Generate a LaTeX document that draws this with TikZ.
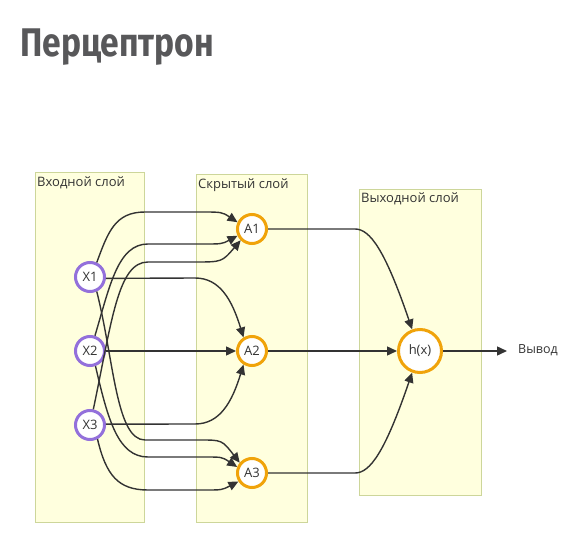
\documentclass[tikz,border=0pt]{standalone}
\usepackage{fontspec}
\setmainfont{Open Sans}
\newfontfamily\titlefont[FakeStretch=0.84]{Fira Sans}
\usetikzlibrary{arrows.meta}

\definecolor{cLayerF}{HTML}{FFFFDE}
\definecolor{cLayerD}{HTML}{CDD69A}
\definecolor{cIn}{HTML}{9370DB}
\definecolor{cHid}{HTML}{F0A30A}
\definecolor{cLine}{HTML}{333333}
\definecolor{cTitle}{HTML}{58585A}

\tikzstyle{layer} = [draw=cLayerD, fill=cLayerF, line width=1.2pt,
                     rectangle, anchor=north west, inner sep=0pt]
\tikzstyle{lbl} = [anchor=base west, inner sep=0pt, text=cLine,
                   font=\fontsize{13}{15}\selectfont]
\tikzstyle{neuron} = [circle, fill=white, line width=3pt, minimum size=29pt,
                      inner sep=0pt, text=cLine, font=\fontsize{13}{15}\selectfont]
\tikzstyle{inp} = [neuron, draw=cIn]
\tikzstyle{hid} = [neuron, draw=cHid]
\tikzstyle{link} = [->, draw=cLine, line width=1.4pt]

\begin{document}
\begin{tikzpicture}[x=1pt,y=-1pt,>={Triangle[length=10pt,width=9pt]}]
\useasboundingbox (0,0) rectangle (586,545);

\node[anchor=base west, inner sep=0pt, text=cTitle,
      font=\titlefont\bfseries\fontsize{40}{44}\selectfont]
     at (20,57) (title) {Перцептрон};

% layers
\node[layer, minimum width=109pt, minimum height=350pt] at (35,172) (Lin) {};
\node[layer, minimum width=111pt, minimum height=348pt] at (196,174) (Lhid) {};
\node[layer, minimum width=122pt, minimum height=306pt] at (359,189) (Lout) {};
\node[lbl] at (37,187) (capIn) {Входной слой};
\node[lbl] at (198,189) (capHid) {Скрытый слой};
\node[lbl] at (361,203) (capOut) {Выходной слой};

% neurons
\node[inp] at (90,277) (X1) {X1};
\node[inp] at (90,351) (X2) {X2};
\node[inp] at (90,425) (X3) {X3};
\node[hid] at (252,229) (A1) {A1};
\node[hid] at (252,351) (A2) {A2};
\node[hid] at (252,473) (A3) {A3};
\node[hid, minimum size=43pt] at (420,351) (H) {h(x)};
\coordinate (out) at (507,351);
\node[anchor=west, inner sep=0pt, text=cLine, font=\fontsize{12.5}{14}\selectfont]
     at (518,350) (outLbl) {Вывод};

% input -> hidden
\draw[link] (X1.65) .. controls (108,232) and (115,212) .. (145,212)
     -- (200,212) .. controls (222,212) .. (A1.155);
\draw[link] (X2.72) .. controls (110,285) and (118,244) .. (148,244)
     -- (203,244) .. controls (222,244) .. (A1.205);
\draw[link] (X3.78) .. controls (112,320) and (118,262) .. (148,262)
     -- (195,262) .. controls (222,262) .. (A1.225);

\draw[link] (X1.-5) -- (195,278)
     .. controls (220,278) and (232,300) .. (A2.122);
\draw[link] (X2) -- (A2);
\draw[link] (X3.3) -- (195,424)
     .. controls (220,424) and (232,402) .. (A2.238);

\draw[link] (X1.-65) .. controls (114,360) and (116,440) .. (145,440)
     -- (200,440) .. controls (222,440) .. (A3.140);
\draw[link] (X2.-70) .. controls (108,420) and (118,457) .. (148,457)
     -- (205,457) .. controls (222,457) .. (A3.158);
\draw[link] (X3.-62) .. controls (106,475) and (118,490) .. (148,490)
     -- (205,490) .. controls (222,490) .. (A3.212);

% hidden -> output
\draw[link] (A1.east) -- (355,229)
     .. controls (370,229) and (385,250) .. (H.110);
\draw[link] (A2) -- (H);
\draw[link] (A3.east) -- (355,473)
     .. controls (370,473) and (385,452) .. (H.250);
\draw[link] (H) -- (out);

\end{tikzpicture}
\end{document}
